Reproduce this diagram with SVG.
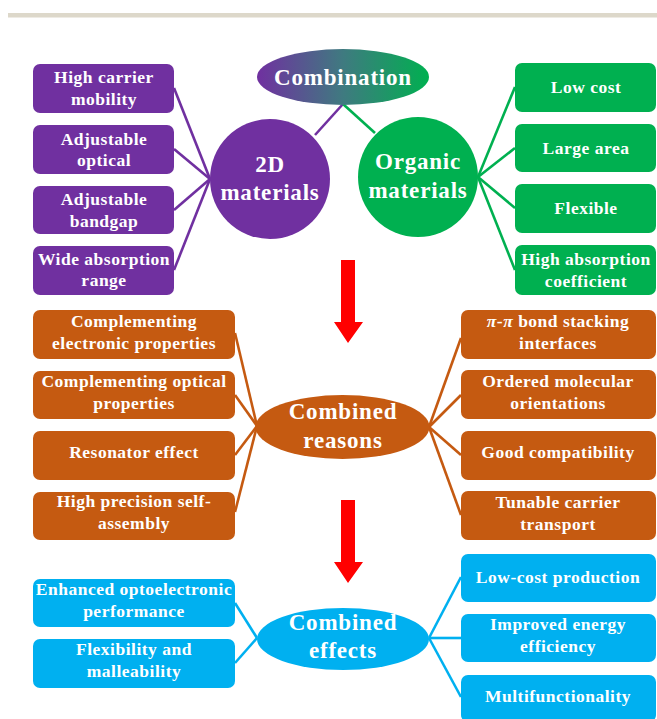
<svg xmlns="http://www.w3.org/2000/svg" width="657" height="719" viewBox="0 0 657 719">
<style>
text{font-family:"Liberation Serif","Times New Roman",serif;font-weight:bold;fill:#fff;text-anchor:middle}
.b{font-size:17.5px;letter-spacing:0.5px}
.h{font-size:23px;letter-spacing:0.8px}
.pu{fill:#7030A0}.gr{fill:#00B050}.or{fill:#C55A11}.bl{fill:#00B0F0}
.lp{stroke:#7030A0}.lg{stroke:#00B050}.lo{stroke:#C55A11}.lb{stroke:#00B0F0}
#connectors line{stroke-width:2.6;fill:none}
.arr{fill:#FF0000}
</style>
<defs>
<linearGradient id="comb" x1="0" y1="0" x2="1" y2="0">
<stop offset="0" stop-color="#7030A0"/>
<stop offset="0.5" stop-color="#3F7A80"/>
<stop offset="1" stop-color="#00B050"/>
</linearGradient>
</defs>
<rect x="8" y="13" width="649" height="4.5" fill="#DDD8CA"/>

<g id="connectors">
<line class="lp" x1="343" y1="104" x2="315" y2="135"/>
<line class="lg" x1="343" y1="104" x2="375" y2="133"/>
<line class="lp" x1="174" y1="88" x2="210" y2="179"/>
<line class="lp" x1="174" y1="149" x2="210" y2="179"/>
<line class="lp" x1="174" y1="210" x2="210" y2="179"/>
<line class="lp" x1="174" y1="270" x2="210" y2="179"/>
<line class="lg" x1="478" y1="177" x2="515" y2="87"/>
<line class="lg" x1="478" y1="177" x2="515" y2="148"/>
<line class="lg" x1="478" y1="177" x2="515" y2="208"/>
<line class="lg" x1="478" y1="177" x2="515" y2="270"/>
<line class="lo" x1="235" y1="333" x2="257" y2="426"/>
<line class="lo" x1="235" y1="395" x2="257" y2="426"/>
<line class="lo" x1="235" y1="455" x2="257" y2="426"/>
<line class="lo" x1="235" y1="512" x2="257" y2="426"/>
<line class="lo" x1="429" y1="427" x2="461" y2="338"/>
<line class="lo" x1="429" y1="427" x2="461" y2="395"/>
<line class="lo" x1="429" y1="427" x2="461" y2="455"/>
<line class="lo" x1="429" y1="427" x2="461" y2="515"/>
<line class="lb" x1="235" y1="603" x2="257" y2="638"/>
<line class="lb" x1="235" y1="663" x2="257" y2="638"/>
<line class="lb" x1="429" y1="638" x2="461" y2="577"/>
<line class="lb" x1="429" y1="638" x2="461" y2="638"/>
<line class="lb" x1="429" y1="638" x2="461" y2="697"/>
</g>

<g id="combination">
<ellipse cx="343" cy="77" rx="86" ry="28" fill="url(#comb)"/>
<text class="h" x="343" y="85">Combination</text>
</g>
<g id="materials2d">
<circle class="pu" cx="270" cy="179" r="60"/>
<text class="h" x="270" y="172">2D</text>
<text class="h" x="270" y="200">materials</text>
</g>
<g id="organic">
<circle class="gr" cx="418" cy="177" r="60"/>
<text class="h" x="418" y="169">Organic</text>
<text class="h" x="418" y="198">materials</text>
</g>

<g id="p1"><rect class="pu" x="33" y="64" width="141" height="49" rx="7"/><text class="b" x="104" y="83">High carrier</text><text class="b" x="104" y="105">mobility</text></g>
<g id="p2"><rect class="pu" x="33" y="125" width="141" height="49" rx="7"/><text class="b" x="104" y="145">Adjustable</text><text class="b" x="104" y="166">optical</text></g>
<g id="p3"><rect class="pu" x="33" y="186" width="141" height="48" rx="7"/><text class="b" x="104" y="205">Adjustable</text><text class="b" x="104" y="227">bandgap</text></g>
<g id="p4"><rect class="pu" x="33" y="246" width="141" height="49" rx="7"/><text class="b" x="104" y="265">Wide absorption</text><text class="b" x="104" y="286">range</text></g>

<g id="g1"><rect class="gr" x="515" y="63" width="141" height="49" rx="7"/><text class="b" x="586" y="93">Low cost</text></g>
<g id="g2"><rect class="gr" x="515" y="124" width="141" height="48" rx="7"/><text class="b" x="586" y="154">Large area</text></g>
<g id="g3"><rect class="gr" x="515" y="184" width="141" height="49" rx="7"/><text class="b" x="586" y="214">Flexible</text></g>
<g id="g4"><rect class="gr" x="515" y="245" width="141" height="50" rx="7"/><text class="b" x="586" y="265">High absorption</text><text class="b" x="586" y="287">coefficient</text></g>

<g id="arrow1"><polygon class="arr" points="341,260 355,260 355,322 363,322 348,343 334,322 341,322"/></g>

<g id="reasons">
<ellipse class="or" cx="342.5" cy="427" rx="87" ry="32"/>
<text class="h" x="343" y="419">Combined</text>
<text class="h" x="343" y="448">reasons</text>
</g>

<g id="o1"><rect class="or" x="33" y="310" width="202" height="49" rx="7"/><text class="b" x="134" y="327">Complementing</text><text class="b" x="134" y="349">electronic properties</text></g>
<g id="o2"><rect class="or" x="33" y="371" width="202" height="48" rx="7"/><text class="b" x="134" y="387">Complementing optical</text><text class="b" x="134" y="409">properties</text></g>
<g id="o3"><rect class="or" x="33" y="431" width="202" height="49" rx="7"/><text class="b" x="134" y="458">Resonator effect</text></g>
<g id="o4"><rect class="or" x="33" y="492" width="202" height="48" rx="7"/><text class="b" x="134" y="507">High precision self-</text><text class="b" x="134" y="529">assembly</text></g>

<g id="o5"><rect class="or" x="461" y="310" width="195" height="49" rx="7"/><text class="b" x="558" y="327"><tspan font-style="italic">π</tspan>-<tspan font-style="italic">π</tspan> bond stacking</text><text class="b" x="558" y="349">interfaces</text></g>
<g id="o6"><rect class="or" x="461" y="370" width="195" height="49" rx="7"/><text class="b" x="558" y="387">Ordered molecular</text><text class="b" x="558" y="409">orientations</text></g>
<g id="o7"><rect class="or" x="461" y="431" width="195" height="49" rx="7"/><text class="b" x="558" y="458">Good compatibility</text></g>
<g id="o8"><rect class="or" x="461" y="491" width="195" height="49" rx="7"/><text class="b" x="558" y="508">Tunable carrier</text><text class="b" x="558" y="530">transport</text></g>

<g id="arrow2"><polygon class="arr" points="341,500 355,500 355,562 363,562 348,583 334,562 341,562"/></g>

<g id="effects">
<ellipse class="bl" cx="343" cy="639" rx="86" ry="31"/>
<text class="h" x="343" y="630">Combined</text>
<text class="h" x="343" y="658">effects</text>
</g>

<g id="b1"><rect class="bl" x="33" y="579" width="202" height="48" rx="7"/><text class="b" x="134" y="595">Enhanced optoelectronic</text><text class="b" x="134" y="617">performance</text></g>
<g id="b2"><rect class="bl" x="33" y="639" width="202" height="49" rx="7"/><text class="b" x="134" y="655">Flexibility and</text><text class="b" x="134" y="677">malleability</text></g>

<g id="b3"><rect class="bl" x="461" y="554" width="195" height="48" rx="7"/><text class="b" x="558" y="583">Low-cost production</text></g>
<g id="b4"><rect class="bl" x="461" y="614" width="195" height="48" rx="7"/><text class="b" x="558" y="630">Improved energy</text><text class="b" x="558" y="652">efficiency</text></g>
<g id="b5"><rect class="bl" x="461" y="675" width="195" height="47" rx="7"/><text class="b" x="558" y="702">Multifunctionality</text></g>
</svg>
